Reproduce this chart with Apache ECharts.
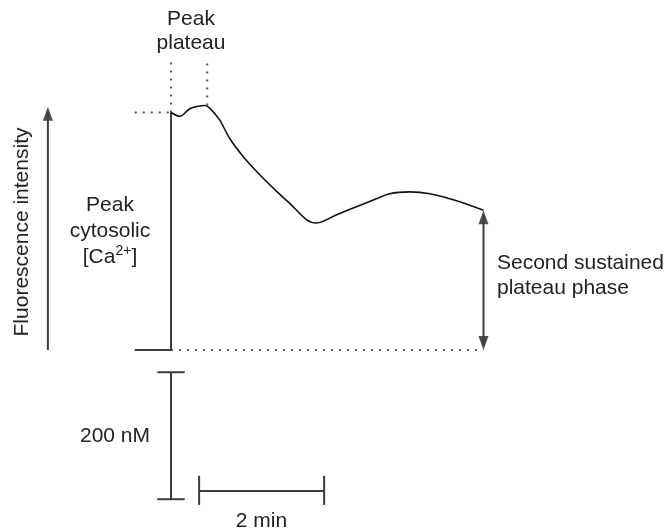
<!DOCTYPE html>
<html>
<head>
<meta charset="utf-8">
<script src="https://cdn.jsdelivr.net/npm/echarts@6/dist/echarts.min.js"></script>
<style>
html,body{margin:0;padding:0;background:#fff;}
#chart{width:667px;height:530px;}
</style>
</head>
<body>
<div id="chart"></div>
<script>
// Time in minutes, cytosolic [Ca2+] in nM (schematic)
var curveTime = [0, 0.14, 0.30, 0.44, 0.54, 0.62, 0.78, 0.94, 1.16, 1.42, 1.72, 1.90, 2.17, 2.33, 2.65, 3.18, 3.50, 3.82, 4.14, 4.57, 5.0];
var curveCa   = [374, 368, 380, 384, 385, 381, 362, 333, 304, 276, 247, 231, 205, 200, 213, 234, 246, 249, 246, 235, 220];

var peakLevel = 374;          // start of response
var peakPlateauEnd = 0.58;    // end of peak plateau (min)
var peakPlateauTop = 385;
var endTime = 5.0;
var endLevel = 220;
var guideTop = 453;
var leftTick = -0.58;
var fluorX = -1.97;
var fluorTop = 383;
var barNM = 200;              // 200 nM scale bar
var barMin = 2;               // 2 min scale bar
var vBarX = 0, vBarTop = -35, capHalf = 0.22;
var hBarStart = 0.45, hBarY = -222, hCapTop = -198, hCapBottom = -244;

var labels = {
  peakPlateau: 'Peak\nplateau',
  peakCyt: ['Peak', 'cytosolic'],
  second: 'Second sustained\nplateau phase',
  yTitle: 'Fluorescence intensity',
  nm: '200 nM',
  min: '2 min'
};

var FONT = '"Liberation Sans", Arial, sans-serif';
var TXT = '#222';
var AX = '#3c3c3c';

function seg(data, opts) {
  return Object.assign({
    type: 'line', data: data, symbol: 'none', clip: false, silent: true,
    animation: false, smooth: false,
    lineStyle: { color: AX, width: 2 }
  }, opts || {});
}
var dotted = { color: '#555', width: 2, type: [2, 6] };

var curveData = curveTime.map(function (t, i) { return [t, curveCa[i]]; });

var series = [
  seg(curveData, { smooth: 0.3, lineStyle: { color: '#111', width: 1.6 }, z: 5 }),
  seg([[0, 0], [0, peakLevel]]),
  seg([[leftTick, 0], [0, 0]]),
  seg([[0, 0], [endTime, 0]], { lineStyle: dotted }),
  seg([[leftTick, peakLevel], [0, peakLevel]], { lineStyle: dotted }),
  seg([[0, peakLevel], [0, guideTop]], { lineStyle: dotted }),
  seg([[peakPlateauEnd, peakPlateauTop], [peakPlateauEnd, guideTop]], { lineStyle: dotted }),
  seg([[endTime, 8], [endTime, endLevel - 8]]),
  seg([[fluorX, 0], [fluorX, fluorTop - 8]]),
  seg([[vBarX, vBarTop], [vBarX, vBarTop - barNM]]),
  seg([[vBarX - capHalf, vBarTop], [vBarX + capHalf, vBarTop]]),
  seg([[vBarX - capHalf, vBarTop - barNM], [vBarX + capHalf, vBarTop - barNM]]),
  seg([[hBarStart, hBarY], [hBarStart + barMin, hBarY]]),
  seg([[hBarStart, hCapTop], [hBarStart, hCapBottom]]),
  seg([[hBarStart + barMin, hCapTop], [hBarStart + barMin, hCapBottom]]),
  {
    type: 'scatter', clip: false, silent: true, animation: false,
    symbol: 'triangle', symbolSize: [10, 14],
    itemStyle: { color: '#222' },
    data: [
      { value: [endTime, endLevel], symbolOffset: [0, '50%'] },
      { value: [fluorX, fluorTop], symbolOffset: [0, '50%'] },
      { value: [endTime, 0], symbolRotate: 180, symbolOffset: [0, '-50%'] }
    ]
  }
];

var chart = echarts.init(document.getElementById('chart'), null, { renderer: 'canvas' });
chart.setOption({
  animation: false,
  backgroundColor: '#fff',
  // 62.5 px per minute, 0.635 px per nM; t = 0 at x = 171, 0 nM at y = 350
  grid: { left: 14.75, top: 96, width: 593.75, height: 254 },
  xAxis: { type: 'value', min: -2.5, max: 7, show: false },
  yAxis: { type: 'value', min: 0, max: 400, show: false },
  series: series,
  graphic: [
    { type: 'text', silent: true, style: { text: labels.peakPlateau, x: 191, y: 31, textAlign: 'center', textVerticalAlign: 'middle', font: '21px ' + FONT, lineHeight: 24, fill: TXT } },
    { type: 'text', silent: true, style: {
        text: labels.peakCyt[0] + '\n' + labels.peakCyt[1] + '\n{n|[Ca}{s|2+}{n|]}',
        x: 110, y: 231, textAlign: 'center', textVerticalAlign: 'middle',
        font: '21px ' + FONT, lineHeight: 26, fill: TXT,
        rich: {
          n: { fontSize: 21, fontFamily: FONT, color: TXT, lineHeight: 26 },
          s: { fontSize: 14, fontFamily: FONT, color: TXT, lineHeight: 26, verticalAlign: 'top', padding: [0, 0, 4, 0] }
        }
      } },
    { type: 'text', silent: true, style: { text: labels.second, x: 497, y: 276, textAlign: 'left', textVerticalAlign: 'middle', font: '21px ' + FONT, lineHeight: 25, fill: TXT } },
    { type: 'text', silent: true, rotation: Math.PI / 2, x: 22.5, y: 232, style: { text: labels.yTitle, x: 0, y: 0, textAlign: 'center', textVerticalAlign: 'middle', font: '21px ' + FONT, fill: TXT } },
    { type: 'text', silent: true, style: { text: labels.nm, x: 150, y: 436, textAlign: 'right', textVerticalAlign: 'middle', font: '21px ' + FONT, fill: TXT } },
    { type: 'text', silent: true, style: { text: labels.min, x: 261.5, y: 521, textAlign: 'center', textVerticalAlign: 'middle', font: '21px ' + FONT, fill: TXT } }
  ]
});
</script>
</body>
</html>
